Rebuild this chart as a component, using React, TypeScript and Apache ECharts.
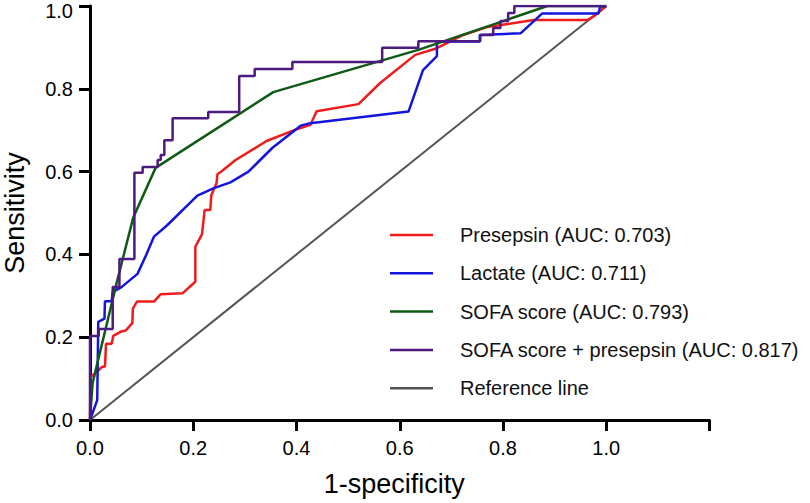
import React, { useEffect, useRef } from "react";
import * as echarts from "echarts";

// ROC curve points: [1-specificity, sensitivity]
const presepsin: number[][] = [
  [0, 0], [0.001, 0.104], [0.013, 0.116], [0.023, 0.128], [0.029, 0.129], [0.031, 0.184], [0.042, 0.184],
  [0.045, 0.203], [0.059, 0.213], [0.069, 0.216], [0.082, 0.234], [0.083, 0.269], [0.091, 0.286],
  [0.124, 0.286], [0.137, 0.304], [0.179, 0.306], [0.204, 0.334], [0.204, 0.418], [0.217, 0.449],
  [0.222, 0.507], [0.233, 0.507], [0.235, 0.543], [0.245, 0.572], [0.247, 0.594], [0.255, 0.601],
  [0.282, 0.628], [0.342, 0.674], [0.402, 0.703], [0.427, 0.713], [0.439, 0.746], [0.52, 0.763],
  [0.562, 0.814], [0.63, 0.882], [0.672, 0.898], [0.723, 0.93], [0.769, 0.949], [0.859, 0.966],
  [0.964, 0.966], [0.979, 0.978], [1, 1],
];

const lactate: number[][] = [
  [0, 0], [0.014, 0.048], [0.016, 0.237], [0.028, 0.245], [0.029, 0.287], [0.042, 0.287], [0.044, 0.309],
  [0.061, 0.321], [0.092, 0.353], [0.109, 0.399], [0.124, 0.443], [0.15, 0.471], [0.208, 0.542],
  [0.24, 0.56], [0.272, 0.574], [0.307, 0.6], [0.353, 0.657], [0.408, 0.711], [0.427, 0.717],
  [0.617, 0.745], [0.645, 0.845], [0.672, 0.879], [0.672, 0.914], [0.755, 0.914], [0.755, 0.93],
  [0.834, 0.934], [0.876, 0.982], [0.985, 0.982], [0.988, 0.998], [1, 1],
];

const sofa: number[][] = [
  [0, 0], [0.005, 0.089], [0.053, 0.338], [0.084, 0.49], [0.127, 0.609], [0.355, 0.792],
  [0.636, 0.894], [0.886, 1], [1, 1],
];

const sofaPresepsin: number[][] = [
  [0, 0], [0, 0.203], [0.017, 0.203], [0.017, 0.22], [0.044, 0.22], [0.044, 0.321], [0.057, 0.321],
  [0.057, 0.389], [0.086, 0.389], [0.086, 0.597], [0.102, 0.597], [0.102, 0.611], [0.131, 0.611],
  [0.131, 0.628], [0.137, 0.628], [0.137, 0.64], [0.144, 0.64], [0.144, 0.676], [0.16, 0.676],
  [0.16, 0.729], [0.229, 0.729], [0.229, 0.744], [0.289, 0.744], [0.289, 0.831], [0.319, 0.831],
  [0.319, 0.848], [0.392, 0.848], [0.392, 0.865], [0.566, 0.865], [0.566, 0.899], [0.636, 0.899],
  [0.636, 0.915], [0.756, 0.915], [0.756, 0.93], [0.781, 0.93], [0.781, 0.947], [0.795, 0.947],
  [0.795, 0.964], [0.81, 0.964], [0.81, 0.983], [0.822, 0.983], [0.822, 1], [1, 1],
];

const referenceLine: number[][] = [[0, 0], [1, 1]];

const seriesNames = [
  "Presepsin (AUC: 0.703)",
  "Lactate (AUC: 0.711)",
  "SOFA score (AUC: 0.793)",
  "SOFA score + presepsin (AUC: 0.817)",
  "Reference line",
];
const seriesData = [presepsin, lactate, sofa, sofaPresepsin, referenceLine];
const seriesColors = ["#f01c1c", "#1414dc", "#0f5a14", "#4c1a80", "#555555"];
const seriesWidths = [2.5, 2.5, 2.5, 2.5, 2];

const FONT = "'Liberation Sans', Arial, Helvetica, sans-serif";

export default function App() {
  const ref = useRef<HTMLDivElement>(null);
  useEffect(() => {
    if (!ref.current) return;
    const chart = echarts.init(ref.current, null, { renderer: "svg" });
    chart.setOption({
      animation: false,
      backgroundColor: "#ffffff",
      textStyle: { fontFamily: FONT },
      grid: { left: 90, right: 100.5, top: 6, bottom: 83, containLabel: false, outerBoundsMode: "none" },
      legend: {
        orient: "vertical",
        left: 390,
        top: 225,
        padding: 0,
        icon: "rect",
        itemWidth: 43,
        itemHeight: 2.5,
        itemGap: 18.3,
        textStyle: { fontSize: 20, color: "#111", fontFamily: FONT, lineHeight: 20, padding: [0, 0, 0, 22] },
        data: seriesNames,
      },
      xAxis: {
        type: "value",
        min: 0,
        max: 1.2,
        interval: 0.2,
        name: "1-specificity",
        nameLocation: "middle",
        nameGap: 50,
        nameTextStyle: { fontSize: 27, color: "#000", fontFamily: FONT, padding: [0, 11, 0, 0] },
        axisLine: { show: true, onZero: false, lineStyle: { color: "#000", width: 3 } },
        axisTick: { show: true, length: 11, lineStyle: { color: "#000", width: 3 } },
        axisLabel: {
          fontSize: 20,
          color: "#000",
          margin: 18,
          fontFamily: FONT,
          formatter: (v: number) => (v > 1.01 ? "" : v.toFixed(1)),
        },
        splitLine: { show: false },
      },
      yAxis: {
        type: "value",
        min: 0,
        max: 1,
        interval: 0.2,
        name: "Sensitivity",
        nameLocation: "middle",
        nameGap: 62,
        nameTextStyle: { fontSize: 27, color: "#000", fontFamily: FONT },
        axisLine: { show: true, onZero: false, lineStyle: { color: "#000", width: 3 } },
        axisTick: { show: true, length: 11, lineStyle: { color: "#000", width: 3 } },
        axisLabel: {
          fontSize: 20,
          color: "#000",
          margin: 17,
          fontFamily: FONT,
          formatter: (v: number) => (v > 0.99 ? "{top|" + v.toFixed(1) + "}" : v.toFixed(1)),
          rich: {
            top: { fontSize: 20, color: "#000", fontFamily: FONT, padding: [10, 0, 0, 0] },
          },
        },
        splitLine: { show: false },
      },
      series: seriesNames.map((name, i) => ({
        name,
        type: "line",
        data: seriesData[i],
        showSymbol: false,
        symbol: "none",
        color: seriesColors[i],
        lineStyle: { color: seriesColors[i], width: seriesWidths[i] },
        z: i === 4 ? 1 : 2 + i,
      })),
    });
    return () => chart.dispose();
  }, []);
  return (
    <div
      ref={ref}
      style={{ position: "fixed", left: 0, top: 0, width: 810, height: 503, background: "#fff" }}
    />
  );
}
